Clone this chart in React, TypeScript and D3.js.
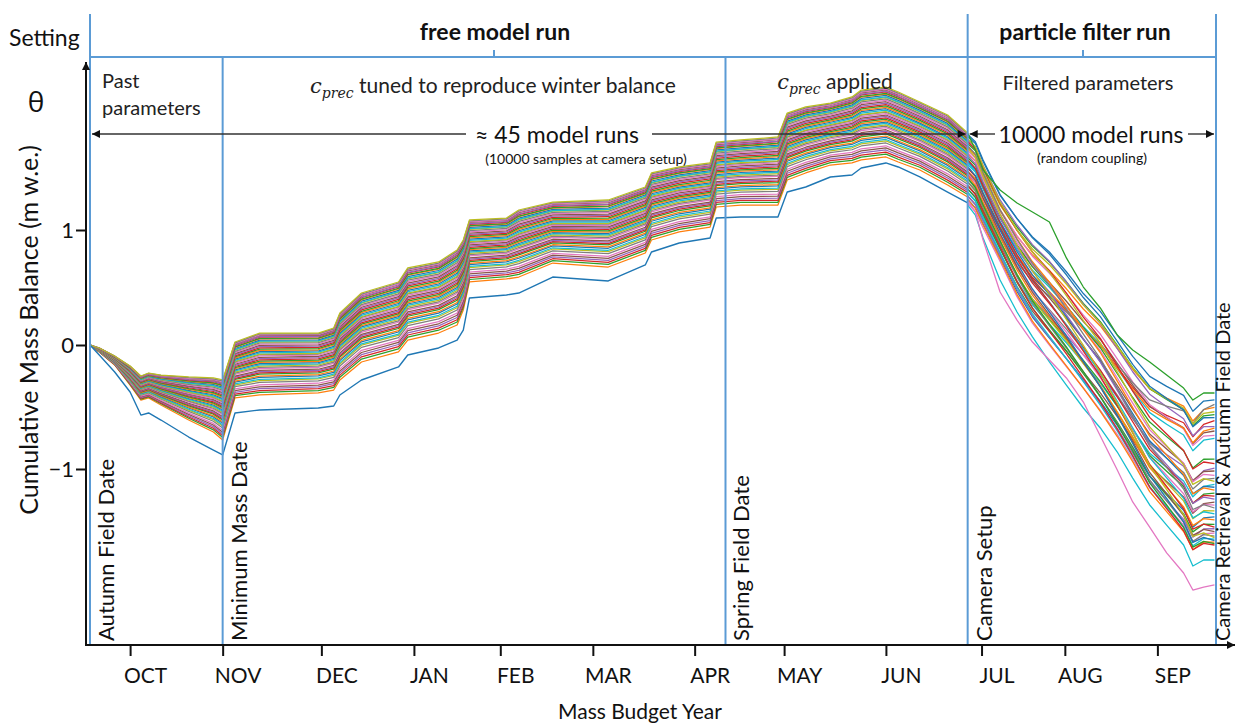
import * as d3 from 'd3';
import { useEffect, useRef } from 'react';

const W = 1235;
const H = 723;
const FONT = 'Lato, "Open Sans", sans-serif';
const BLUE = '#5b9bd5';
const tab10 = d3.schemeCategory10;

// x axis: days after the autumn field date, month ticks as placed in the figure
const months = ['OCT', 'NOV', 'DEC', 'JAN', 'FEB', 'MAR', 'APR', 'MAY', 'JUN', 'JUL', 'AUG', 'SEP'];
const monthDays = [13, 43, 75, 105, 133, 163, 196, 225, 258, 289, 316, 346];
const yTicks = [-1, 0, 1];

const periodBounds = [0, 284.5, 365];
const eventLabels = ['Autumn Field Date', 'Minimum Mass Date', 'Spring Field Date', 'Camera Setup', 'Camera Retrieval & Autumn Field Date'];
const eventDays = [0, 43, 206, 284.5, 365];

// free model run (~45 runs): upper edge, lower edge of the bundle, and the lone lowest run
const freeDays = [0, 3, 8, 13, 16.5, 19, 23, 32, 40, 43, 47, 55, 74, 79, 81, 88, 100, 103, 113, 119, 121, 123, 135, 139, 150, 168, 180, 182, 191, 201, 203, 211, 223, 226, 232, 240, 247, 250, 258, 262, 269, 278, 284.5];
const freeTop = [0, -0.024, -0.089, -0.169, -0.25, -0.226, -0.242, -0.258, -0.266, -0.282, 0.026, 0.104, 0.104, 0.148, 0.278, 0.452, 0.548, 0.67, 0.722, 0.826, 0.913, 1.087, 1.104, 1.174, 1.243, 1.261, 1.374, 1.496, 1.548, 1.583, 1.765, 1.783, 1.809, 2.017, 2.07, 2.104, 2.157, 2.217, 2.243, 2.2, 2.113, 2.0, 1.843];
const freeLow = [0, -0.056, -0.161, -0.323, -0.444, -0.427, -0.484, -0.605, -0.702, -0.766, -0.427, -0.403, -0.387, -0.363, -0.282, -0.137, -0.056, 0.043, 0.104, 0.174, 0.304, 0.548, 0.574, 0.591, 0.713, 0.678, 0.8, 0.913, 0.983, 1.026, 1.2, 1.217, 1.217, 1.435, 1.496, 1.565, 1.583, 1.609, 1.635, 1.591, 1.522, 1.391, 1.287];
const freeLone = [0, -0.081, -0.218, -0.379, -0.565, -0.548, -0.605, -0.742, -0.847, -0.887, -0.548, -0.524, -0.508, -0.492, -0.403, -0.282, -0.177, -0.081, -0.024, 0.043, 0.13, 0.409, 0.435, 0.452, 0.591, 0.557, 0.696, 0.809, 0.887, 0.93, 1.104, 1.113, 1.113, 1.33, 1.374, 1.461, 1.478, 1.539, 1.583, 1.548, 1.461, 1.33, 1.235];
// where each run sits between the lower (0) and upper (1) edge
const freeShares = [0, 0.04, 0.07, 0.1, 0.13, 0.16, 0.2, 0.23, 0.25, 0.28, 0.3, 0.33, 0.35, 0.37, 0.39, 0.42, 0.44, 0.46, 0.48, 0.5, 0.52, 0.54, 0.56, 0.58, 0.6, 0.62, 0.64, 0.65, 0.67, 0.69, 0.71, 0.73, 0.75, 0.77, 0.79, 0.81, 0.83, 0.85, 0.86, 0.88, 0.9, 0.91, 0.93, 0.94, 0.96, 0.97, 0.985, 1];

// particle filter run
const filterDays = [284.5, 287, 289.5, 295, 300.5, 305.5, 311, 316.5, 322, 327.5, 333, 338, 343.5, 349, 354.5, 357.5, 361, 364.5];
const filterTop = [1.843, 1.783, 1.626, 1.33, 1.13, 0.974, 0.843, 0.67, 0.478, 0.322, 0.113, -0.065, -0.226, -0.306, -0.379, -0.508, -0.427, -0.419];
const filterLow = [1.235, 1.157, 1.017, 0.722, 0.409, 0.174, -0.024, -0.202, -0.379, -0.565, -0.766, -0.968, -1.21, -1.371, -1.532, -1.677, -1.613, -1.613];
const filterGreen = [1.843, 1.696, 1.522, 1.348, 1.235, 1.157, 1.07, 0.757, 0.504, 0.322, 0.087, -0.04, -0.137, -0.242, -0.347, -0.444, -0.387, -0.387];
const filterCyan = [1.217, 1.13, 0.93, 0.565, 0.287, 0.07, -0.137, -0.323, -0.508, -0.669, -0.863, -1.073, -1.29, -1.452, -1.613, -1.782, -1.734, -1.734];
const filterPink = [1.261, 1.157, 0.913, 0.461, 0.217, 0.026, -0.121, -0.266, -0.46, -0.734, -1.008, -1.266, -1.468, -1.677, -1.839, -1.976, -1.952, -1.935];
// share between lower and upper edge at camera setup and at retrieval
const filterRuns = [
  [0.95, 0.98], [0.7, 0.93], [0.85, 0.88], [0.4, 0.84], [0.9, 0.8], [0.6, 0.77], [0.75, 0.74], [0.3, 0.95], [0.8, 0.9], [0.55, 0.72], [0.98, 0.86], [0.45, 0.79],
  [0.65, 0.58], [0.88, 0.55], [0.2, 0.52], [0.5, 0.5], [0.72, 0.47], [0.35, 0.45], [0.92, 0.43], [0.15, 0.41], [0.6, 0.39], [0.8, 0.37], [0.25, 0.35], [0.5, 0.33],
  [0.68, 0.31], [0.1, 0.29], [0.42, 0.27], [0.82, 0.25], [0.3, 0.23], [0.58, 0.21], [0.05, 0.19], [0.38, 0.17],
  [0.2, 0.14], [0.62, 0.12], [0.1, 0.11], [0.45, 0.09], [0, 0.08], [0.3, 0.06], [0.78, 0.05], [0.15, 0.04], [0.52, 0.03], [0.05, 0.02], [0.35, 0.01], [0.25, 0]
];

export default function App() {
  const svgRef = useRef<SVGSVGElement>(null);

  useEffect(() => {
    if (svgRef.current) drawChart(svgRef.current);
  }, [svgRef]);

  return (
    <svg ref={svgRef} width={W} height={H}
      style={{ position: 'absolute', left: 0, top: 0, background: '#fff' }} />
  );
}

function drawChart(el: SVGSVGElement) {
  const svg = d3.select(el);
  svg.selectAll('*').remove();
  svg.attr('font-family', FONT);

  const x = d3.scaleLinear().domain([0, 365]).range([90, 1216]);
  const y = d3.scaleLinear().domain([-1, 0, 1]).range([469, 345, 230]);

  svg.append('defs').append('marker')
    .attr('id', 'arr')
    .attr('viewBox', '0 0 10 10')
    .attr('refX', 10).attr('refY', 5)
    .attr('markerWidth', 9).attr('markerHeight', 8)
    .attr('markerUnits', 'userSpaceOnUse')
    .attr('orient', 'auto-start-reverse')
    .append('path').attr('d', 'M0,0L10,5L0,10z').attr('fill', '#111');

  // runs
  const gRuns = svg.append('g').attr('fill', 'none').attr('stroke-linejoin', 'round');

  const freeLine = d3.line<number>().x((_, i) => x(freeDays[i])).y(v => y(v));
  freeShares.forEach((s, k) => {
    const vals = freeLow.map((lo, i) => lo + s * (freeTop[i] - lo));
    gRuns.append('path').attr('d', freeLine(vals))
      .attr('stroke', tab10[(k + 1) % 10]).attr('stroke-width', 1.25);
  });
  gRuns.append('path').attr('d', freeLine(freeLone)).attr('stroke', tab10[0]).attr('stroke-width', 1.4);

  const filterLine = d3.line<number>().x((_, i) => x(filterDays[i])).y(v => y(v));
  const d0 = filterDays[0];
  const dN = filterDays[filterDays.length - 1];
  filterRuns.forEach(([s0, s1], k) => {
    const vals = filterLow.map((lo, i) => {
      const s = s0 + (s1 - s0) * (filterDays[i] - d0) / (dN - d0);
      return lo + s * (filterTop[i] - lo);
    });
    gRuns.append('path').attr('d', filterLine(vals))
      .attr('stroke', tab10[k % 10]).attr('stroke-width', 1.3);
  });
  gRuns.append('path').attr('d', filterLine(filterGreen)).attr('stroke', tab10[2]).attr('stroke-width', 1.3);
  gRuns.append('path').attr('d', filterLine(filterCyan)).attr('stroke', tab10[9]).attr('stroke-width', 1.3);
  gRuns.append('path').attr('d', filterLine(filterPink)).attr('stroke', tab10[6]).attr('stroke-width', 1.3);

  // setting frame
  const gFrame = svg.append('g').attr('stroke', BLUE).attr('stroke-width', 2);
  periodBounds.forEach(d => {
    gFrame.append('line').attr('x1', x(d)).attr('x2', x(d)).attr('y1', 14).attr('y2', 645);
  });
  eventDays.filter(d => !periodBounds.includes(d)).forEach(d => {
    gFrame.append('line').attr('x1', x(d)).attr('x2', x(d)).attr('y1', 57).attr('y2', 645);
  });
  gFrame.append('line').attr('x1', x(0)).attr('x2', x(365)).attr('y1', 57).attr('y2', 57);
  gFrame.append('line').attr('x1', 494).attr('x2', 494).attr('y1', 50).attr('y2', 57);
  gFrame.append('line').attr('x1', 1083).attr('x2', 1083).attr('y1', 50).attr('y2', 57);

  // event labels, the last one squeezed against the right edge as in the figure
  eventLabels.forEach((label, i) => {
    const last = i === eventLabels.length - 1;
    const bx = last ? 1230 : x(eventDays[i]) + 24;
    svg.append('text')
      .attr('transform', `translate(${bx},641) rotate(-90)`)
      .attr('font-size', last ? 20 : 22).attr('fill', '#111')
      .text(label);
  });

  // axes
  const xAxis = d3.axisBottom(x).tickValues(monthDays)
    .tickFormat((_, i) => months[i]).tickSize(11);
  svg.append('g').attr('transform', 'translate(0,645)').call(xAxis)
    .call(g => g.select('.domain').remove())
    .call(g => g.selectAll('line').attr('stroke', '#111').attr('stroke-width', 2))
    .call(g => g.selectAll('text').attr('y', 38).attr('dy', 0).attr('dx', 15)
      .attr('font-size', 21).attr('font-family', FONT).attr('fill', '#111'));

  const yAxis = d3.axisLeft(y).tickValues(yTicks).tickSize(10).tickPadding(2)
    .tickFormat(d3.format('d'));
  svg.append('g').attr('transform', 'translate(86,0)').call(yAxis)
    .call(g => g.select('.domain').remove())
    .call(g => g.selectAll('line').attr('stroke', '#111').attr('stroke-width', 2))
    .call(g => g.selectAll('text').attr('font-size', 22).attr('font-family', FONT).attr('fill', '#111'));

  svg.append('line').attr('x1', 86).attr('x2', 86).attr('y1', 646).attr('y2', 62)
    .attr('stroke', '#111').attr('stroke-width', 2).attr('marker-end', 'url(#arr)');
  svg.append('line').attr('x1', 85).attr('x2', 1235).attr('y1', 645).attr('y2', 645)
    .attr('stroke', '#111').attr('stroke-width', 2).attr('marker-end', 'url(#arr)');

  svg.append('text')
    .attr('transform', 'translate(38,330) rotate(-90)')
    .attr('text-anchor', 'middle').attr('font-size', 25).attr('fill', '#111')
    .text('Cumulative Mass Balance (m w.e.)');
  svg.append('text').attr('x', 640).attr('y', 719).attr('text-anchor', 'middle')
    .attr('font-size', 21).attr('fill', '#111').text('Mass Budget Year');

  // header texts
  svg.append('text').attr('x', 9).attr('y', 46).attr('font-size', 23).attr('fill', '#111').text('Setting');
  svg.append('text').attr('x', 36).attr('y', 112).attr('text-anchor', 'middle')
    .attr('font-family', '"Open Sans", sans-serif').attr('font-size', 28).attr('fill', '#111').text('θ');
  svg.append('text').attr('x', 495).attr('y', 40).attr('text-anchor', 'middle')
    .attr('font-size', 23).attr('font-weight', 'bold').attr('fill', '#111').text('free model run');
  svg.append('text').attr('x', 1085).attr('y', 40).attr('text-anchor', 'middle')
    .attr('font-size', 23).attr('font-weight', 'bold').attr('fill', '#111').text('particle filter run');

  const past = svg.append('text').attr('font-size', 20).attr('fill', '#222');
  past.append('tspan').attr('x', 102).attr('y', 88).text('Past');
  past.append('tspan').attr('x', 102).attr('y', 115).text('parameters');

  const cprec = (cx: number, cy: number, rest: string) => {
    const t = svg.append('text').attr('x', cx).attr('y', cy).attr('text-anchor', 'middle')
      .attr('font-size', 21).attr('fill', '#222');
    t.append('tspan').attr('font-family', '"DejaVu Serif", serif').attr('font-style', 'italic').text('c');
    t.append('tspan').attr('font-family', '"DejaVu Serif", serif').attr('font-style', 'italic')
      .attr('font-size', 14).attr('dy', 5).text('prec');
    t.append('tspan').attr('dy', -5).text('\u00a0' + rest);
  };
  cprec(493, 93, 'tuned to reproduce winter balance');
  cprec(835, 89, 'applied');
  svg.append('text').attr('x', 1088).attr('y', 90).attr('text-anchor', 'middle')
    .attr('font-size', 20).attr('fill', '#222').text('Filtered parameters');

  // run counts with arrows
  const gArr = svg.append('g').attr('stroke', '#333').attr('stroke-width', 1.4);
  gArr.append('line').attr('x1', x(0) + 2).attr('x2', 466).attr('y1', 134).attr('y2', 134).attr('marker-start', 'url(#arr)');
  gArr.append('line').attr('x1', 652).attr('x2', x(284.5) - 2).attr('y1', 134).attr('y2', 134).attr('marker-end', 'url(#arr)');
  gArr.append('line').attr('x1', x(284.5) + 2).attr('x2', 995).attr('y1', 134).attr('y2', 134).attr('marker-start', 'url(#arr)');
  gArr.append('line').attr('x1', 1188).attr('x2', x(365) - 2).attr('y1', 134).attr('y2', 134).attr('marker-end', 'url(#arr)');

  svg.append('text').attr('x', 557).attr('y', 143).attr('text-anchor', 'middle')
    .attr('font-size', 23).attr('fill', '#111').text('≈ 45 model runs');
  svg.append('text').attr('x', 586).attr('y', 164).attr('text-anchor', 'middle')
    .attr('font-size', 14).attr('fill', '#111').text('(10000 samples at camera setup)');
  svg.append('text').attr('x', 1091).attr('y', 143).attr('text-anchor', 'middle')
    .attr('font-size', 23).attr('fill', '#111').text('10000 model runs');
  svg.append('text').attr('x', 1092).attr('y', 163).attr('text-anchor', 'middle')
    .attr('font-size', 14).attr('fill', '#111').text('(random coupling)');
}
